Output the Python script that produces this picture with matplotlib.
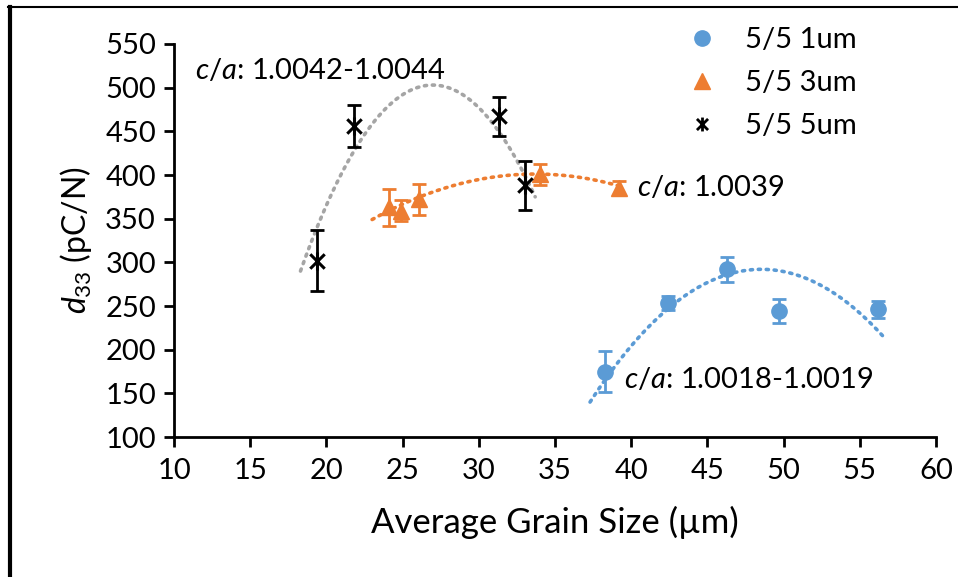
import matplotlib
matplotlib.use("Agg")
import matplotlib.pyplot as plt
import numpy as np
from matplotlib.path import Path
from matplotlib.lines import Line2D

plt.rcParams['font.family'] = ['Lato', 'DejaVu Sans']
plt.rcParams['mathtext.fontset'] = 'custom'
plt.rcParams['mathtext.rm'] = 'Lato'
plt.rcParams['mathtext.it'] = 'Lato:italic'

# Data
labels = ["5/5 1um", "5/5 3um", "5/5 5um"]
x_1um = [38.3, 42.4, 46.3, 49.7, 56.2]
y_1um = [175, 253, 292, 244, 246]
e_1um = [24, 8, 14, 14, 10]

x_3um = [24.1, 24.9, 26.1, 34.0, 39.2]
y_3um = [363, 359, 372, 401, 385]
e_3um = [21, 12, 18, 12, 8]

x_5um = [19.4, 21.8, 31.3, 33.0]
y_5um = [302, 456, 467, 388]
e_5um = [35, 24, 22, 28]

# Dotted polynomial (order 2) trendlines:
# start point, vertex, end point of each curve
trend_1um_x = [37.3, 48.45, 56.7]
trend_1um_y = [140, 292, 212]
trend_3um_x = [23.0, 34.2, 39.5]
trend_3um_y = [349, 401, 386]
trend_5um_x = [18.3, 27.0, 33.7]
trend_5um_y = [290, 503, 375]

annot_5um = r"$c/a$: 1.0042-1.0044"
annot_3um = r"$c/a$: 1.0039"
annot_1um = r"$c/a$: 1.0018-1.0019"

blue = "#5B9BD5"
orange = "#ED7D31"
gray = "#A5A5A5"

star = Path([(-1, -1), (1, 1), (-1, 1), (1, -1), (0, -1.25), (0, 1.25)],
            [Path.MOVETO, Path.LINETO, Path.MOVETO, Path.LINETO, Path.MOVETO, Path.LINETO])

fig = plt.figure(figsize=(9.58, 5.77), dpi=100)
ax = fig.add_axes([174/958, 1-437/577, (936-174)/958, (437-44)/577])

def trend(xs, ys, color):
    c = np.polyfit(xs, ys, 2)
    xx = np.linspace(xs[0], xs[-1], 200)
    ax.plot(xx, np.polyval(c, xx), color=color, lw=2.6, linestyle=(0, (0.6, 1.6)),
            dash_capstyle='round', zorder=1)

trend(trend_5um_x, trend_5um_y, gray)
trend(trend_3um_x, trend_3um_y, orange)
trend(trend_1um_x, trend_1um_y, blue)

ax.errorbar(x_1um, y_1um, yerr=e_1um, fmt='o', color=blue, ms=11, elinewidth=2,
            capsize=5, capthick=2, zorder=3)
ax.errorbar(x_3um, y_3um, yerr=e_3um, fmt='^', color=orange, ms=11, elinewidth=2,
            capsize=5, capthick=2, zorder=3)
ax.errorbar(x_5um, y_5um, yerr=e_5um, fmt='none', ecolor='black', elinewidth=2,
            capsize=5, capthick=2, zorder=3)
ax.plot(x_5um, y_5um, linestyle='none', marker=star, ms=13, mec='black', mew=2.2,
        mfc='none', zorder=4)

ax.set_xlim(10, 60)
ax.set_ylim(100, 550)
ax.set_xticks(np.arange(10, 61, 5))
ax.set_yticks(np.arange(100, 551, 50))
for s in ['top', 'right']:
    ax.spines[s].set_visible(False)
for s in ['left', 'bottom']:
    ax.spines[s].set_linewidth(2)
ax.tick_params(axis='both', direction='out', length=7, width=2, labelsize=21, pad=6)
ax.tick_params(axis='x', pad=8)

ax.set_xlabel("Average Grain Size (µm)", fontsize=25, labelpad=16)
ax.set_ylabel(r"$d_{33}$ (pC/N)", fontsize=23, labelpad=8)

ax.text(11.4, 520, annot_5um, fontsize=21, va='center', ha='left')
ax.text(40.4, 386, annot_3um, fontsize=21, va='center', ha='left')
ax.text(39.5, 166, annot_1um, fontsize=21, va='center', ha='left')

handles = [
    Line2D([], [], linestyle='none', marker='o', color=blue, ms=11),
    Line2D([], [], linestyle='none', marker='^', color=orange, ms=11),
    Line2D([], [], linestyle='none', marker=star, mec='black', mfc='none', mew=2, ms=10),
]
ax.legend(handles, labels, loc='upper left', bbox_to_anchor=(0.674, 1.042), frameon=False,
          fontsize=21, handlelength=1, handletextpad=0.97, labelspacing=0.58,
          borderpad=0, borderaxespad=0)

# outer frame lines (top and left)
fig.add_artist(Line2D([8/958, 1], [1-7/577, 1-7/577], color='black', lw=1.5,
                      transform=fig.transFigure))
fig.add_artist(Line2D([10/958, 10/958], [0, 1-7/577], color='black', lw=3,
                      transform=fig.transFigure))

fig.savefig("out.png", dpi=100)
